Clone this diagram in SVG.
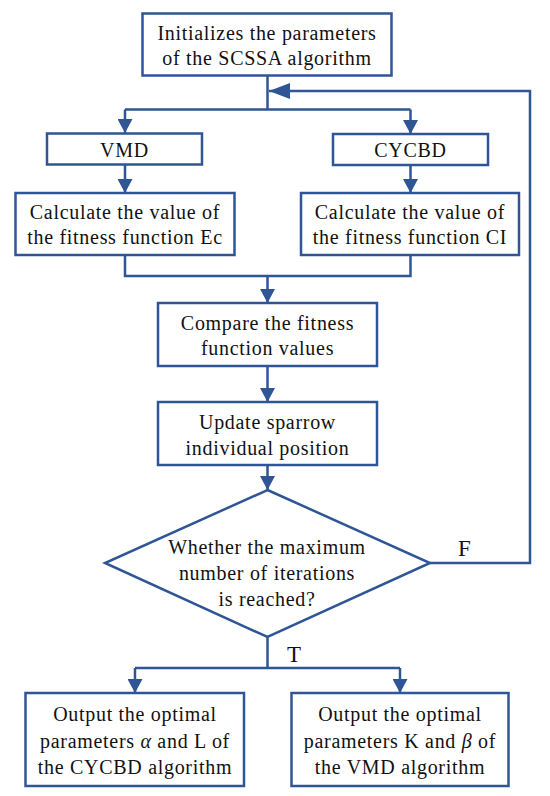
<svg xmlns="http://www.w3.org/2000/svg" width="550" height="796" viewBox="0 0 550 796">
<style>
.box{fill:#fff;stroke:#2F5597;stroke-width:2.5}
.ln{fill:none;stroke:#2F5597;stroke-width:2.5}
.t{font-family:"Liberation Serif","Times New Roman",serif;font-size:20px;fill:#111;text-anchor:middle;letter-spacing:0.7px}
.lb{font-family:"Liberation Serif","Times New Roman",serif;font-size:23px;fill:#111}
</style>
<defs>
<marker id="ah" markerUnits="userSpaceOnUse" markerWidth="15" markerHeight="15" refX="14" refY="7.5" orient="auto">
<path d="M0,0 L14,7.5 L0,15 z" fill="#2F5597"/>
</marker>
<marker id="ahl" markerUnits="userSpaceOnUse" markerWidth="22" markerHeight="16" refX="21" refY="8" orient="auto">
<path d="M0,0 L21,8 L0,16 z" fill="#2F5597"/>
</marker>
</defs>
<g id="connectors">
<path class="ln" d="M267.5,75.5 V109.5 M125,109.5 H410.5"/>
<path class="ln" d="M125,109.5 V133" marker-end="url(#ah)"/>
<path class="ln" d="M410.5,109.5 V134" marker-end="url(#ah)"/>
<path class="ln" d="M430,563 H530 V91 H269" marker-end="url(#ahl)"/>
<path class="ln" d="M125,164.5 V193" marker-end="url(#ah)"/>
<path class="ln" d="M410.5,165 V193" marker-end="url(#ah)"/>
<path class="ln" d="M125,255 V276 H410.5 V255 M267.5,276"/>
<path class="ln" d="M267.5,276 V303" marker-end="url(#ah)"/>
<path class="ln" d="M267.5,366 V402" marker-end="url(#ah)"/>
<path class="ln" d="M267.5,465 V490" marker-end="url(#ah)"/>
<path class="ln" d="M267.5,637 V668 M135,668 H400"/>
<path class="ln" d="M135,668 V693" marker-end="url(#ah)"/>
<path class="ln" d="M400,668 V693" marker-end="url(#ah)"/>
<text class="lb" x="458" y="556">F</text>
<text class="lb" x="287" y="662">T</text>
</g>
<g id="init">
<rect class="box" x="142.5" y="13.5" width="249" height="62"/>
<text class="t" x="267" y="39.5">Initializes the parameters</text>
<text class="t" x="267" y="64.5">of the SCSSA algorithm</text>
</g>
<g id="vmd">
<rect class="box" x="47" y="133.5" width="155" height="31"/>
<text class="t" x="124.5" y="156.5">VMD</text>
</g>
<g id="cycbd">
<rect class="box" x="333" y="134" width="155" height="31"/>
<text class="t" x="410.5" y="157">CYCBD</text>
</g>
<g id="calc-ec">
<rect class="box" x="15.5" y="193" width="219" height="62"/>
<text class="t" x="125" y="218.5">Calculate the value of</text>
<text class="t" x="125" y="243.5">the fitness function Ec</text>
</g>
<g id="calc-ci">
<rect class="box" x="301" y="193" width="218" height="62"/>
<text class="t" x="410" y="218.5">Calculate the value of</text>
<text class="t" x="410" y="243.5">the fitness function CI</text>
</g>
<g id="compare">
<rect class="box" x="158" y="303" width="219" height="63"/>
<text class="t" x="267.5" y="330">Compare the fitness</text>
<text class="t" x="267.5" y="355">function values</text>
</g>
<g id="update">
<rect class="box" x="158" y="402" width="219" height="63"/>
<text class="t" x="267.5" y="428.5">Update sparrow</text>
<text class="t" x="267.5" y="454.5">individual position</text>
</g>
<g id="decision">
<polygon class="box" points="267.5,490 430,563 267.5,637 105,563"/>
<text class="t" x="267" y="554">Whether the maximum</text>
<text class="t" x="267" y="580">number of iterations</text>
<text class="t" x="267" y="606">is reached?</text>
</g>
<g id="out-cycbd">
<rect class="box" x="25.5" y="693" width="218.5" height="93"/>
<text class="t" x="135" y="721">Output the optimal</text>
<text class="t" x="135" y="747.5">parameters <tspan font-style="italic">α</tspan> and L of</text>
<text class="t" x="135" y="773.5">the CYCBD algorithm</text>
</g>
<g id="out-vmd">
<rect class="box" x="291.5" y="693" width="217" height="93"/>
<text class="t" x="400" y="721">Output the optimal</text>
<text class="t" x="400" y="747.5">parameters K and <tspan font-style="italic">β</tspan> of</text>
<text class="t" x="400" y="773.5">the VMD algorithm</text>
</g>
</svg>
